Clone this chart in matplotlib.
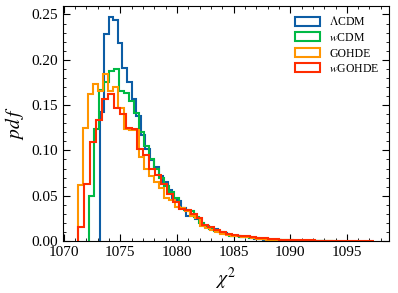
import numpy as np
import matplotlib
matplotlib.use('Agg')
import matplotlib.pyplot as plt
from matplotlib.ticker import MultipleLocator

plt.rcParams['font.family'] = 'serif'
plt.rcParams['font.serif'] = ['Liberation Serif', 'DejaVu Serif']
plt.rcParams['mathtext.fontset'] = 'stix'

# histogram data: first bin edge, bin width, density per bin
lcdm_start, lcdm_width = 1073.2, 0.40
lcdm_pdf = [0.142, 0.228, 0.247, 0.244, 0.218, 0.191, 0.175, 0.157, 0.138, 0.117,
            0.101, 0.089, 0.082, 0.072, 0.065, 0.056, 0.046, 0.044, 0.036, 0.028,
            0.030, 0.024, 0.020, 0.017, 0.014, 0.013, 0.010, 0.009, 0.007, 0.006,
            0.005, 0.004, 0.004, 0.003, 0.002, 0.002, 0.0015, 0.001, 0.001, 0.0008,
            0.0005, 0.0005, 0.0003, 0.0003, 0.0002, 0.0002, 0.0001, 0.0001, 0.0, 0.0001]

wcdm_start, wcdm_width = 1072.25, 0.44
wcdm_pdf = [0.050, 0.124, 0.167, 0.176, 0.188, 0.190, 0.166, 0.163, 0.155, 0.141,
            0.120, 0.105, 0.090, 0.080, 0.070, 0.061, 0.054, 0.048, 0.036, 0.034,
            0.033, 0.026, 0.020, 0.016, 0.013, 0.011, 0.010, 0.008, 0.006, 0.005,
            0.004, 0.004, 0.003, 0.003, 0.002, 0.002, 0.0015, 0.001, 0.001, 0.0008,
            0.0006, 0.0005, 0.0004, 0.0003, 0.0003, 0.0002, 0.0002, 0.0001, 0.0001, 0.0001]

gohde_start, gohde_width = 1071.25, 0.45
gohde_pdf = [0.062, 0.125, 0.162, 0.173, 0.166, 0.184, 0.166, 0.170, 0.147, 0.124,
             0.123, 0.122, 0.093, 0.080, 0.072, 0.065, 0.058, 0.048, 0.045, 0.037,
             0.036, 0.033, 0.028, 0.025, 0.017, 0.014, 0.012, 0.010, 0.008, 0.007,
             0.006, 0.005, 0.004, 0.004, 0.003, 0.002, 0.002, 0.0015, 0.001, 0.001,
             0.0008, 0.0006, 0.0005, 0.0004, 0.0003, 0.0002, 0.0002, 0.0001, 0.0001, 0.0001]

wgohde_start, wgohde_width = 1071.3, 0.522
wgohde_pdf = [0.015, 0.063, 0.109, 0.134, 0.157, 0.162, 0.147, 0.140, 0.125, 0.124,
              0.101, 0.095, 0.080, 0.073, 0.063, 0.052, 0.043, 0.035, 0.034, 0.030,
              0.025, 0.018, 0.015, 0.012, 0.010, 0.008, 0.007, 0.006, 0.005, 0.004,
              0.003, 0.003, 0.002, 0.002, 0.0015, 0.0015, 0.001, 0.001, 0.0008, 0.0006,
              0.0005, 0.0005, 0.0004, 0.0003, 0.0003, 0.0002, 0.0002, 0.0001, 0.0001, 0.0002]

series = [
    (r'$\Lambda$CDM', lcdm_start, lcdm_width, lcdm_pdf, '#0C5DA5'),
    (r'$w$CDM', wcdm_start, wcdm_width, wcdm_pdf, '#00B945'),
    ('GOHDE', gohde_start, gohde_width, gohde_pdf, '#FF9500'),
    (r'$w$GOHDE', wgohde_start, wgohde_width, wgohde_pdf, '#FF2C00'),
]

fig = plt.figure(figsize=(3.98, 2.93), dpi=100)
ax = fig.add_axes([0.158, 0.1775, 0.819, 0.802])

for label, start, width, vals, color in series:
    edges = start + width * np.arange(len(vals) + 1)
    # step histogram, bins given by edges and heights by the density values
    ax.hist(edges[:-1], bins=edges, weights=vals, histtype='step',
            color=color, lw=1.5, label=label)

ax.set_ylim(bottom=0)
ax.xaxis.set_major_locator(MultipleLocator(5))
ax.xaxis.set_minor_locator(MultipleLocator(1))
ax.yaxis.set_major_locator(MultipleLocator(0.05))
ax.yaxis.set_minor_locator(MultipleLocator(0.01))
ax.tick_params(which='both', direction='in', top=True, right=True, labelsize=11)
ax.tick_params(which='major', length=5, width=0.8)
ax.tick_params(which='minor', length=2.5, width=0.6)

ax.set_xlabel(r'$\chi^2$', fontsize=14, labelpad=5)
ax.set_ylabel(r'$pd\,f$', fontsize=14, labelpad=4)

ax.legend(loc='upper right', frameon=False, fontsize=8.5, handlelength=2.1,
          handleheight=0.8, handletextpad=0.8, labelspacing=0.3,
          borderaxespad=0.4)

fig.savefig('out.png', dpi=100)
